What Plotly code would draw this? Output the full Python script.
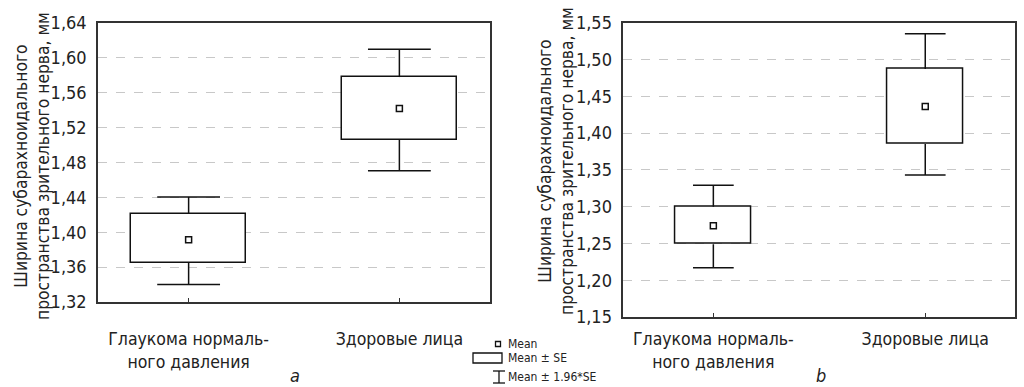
import plotly.graph_objects as go

# ---- data ----
categories = ["Глаукома нормаль-<br>ного давления", "Здоровые лица"]

a_mean = [1.3915, 1.542]
a_se_lo = [1.365, 1.506]
a_se_hi = [1.421, 1.578]
a_ci_lo = [1.340, 1.4705]
a_ci_hi = [1.4405, 1.610]
a_ticks = [1.32, 1.36, 1.40, 1.44, 1.48, 1.52, 1.56, 1.60, 1.64]

b_mean = [1.274, 1.436]
b_se_lo = [1.249, 1.385]
b_se_hi = [1.300, 1.487]
b_ci_lo = [1.217, 1.343]
b_ci_hi = [1.329, 1.535]
b_ticks = [1.15, 1.20, 1.25, 1.30, 1.35, 1.40, 1.45, 1.50, 1.55]

y_title = "Ширина субарахноидального<br>пространства зрительного нерва, мм"
legend_labels = ["Mean", "Mean ± SE", "Mean ± 1.96*SE"]

FONT = "DejaVu Sans Condensed, Liberation Sans Narrow, Roboto, sans-serif"
W, H = 1024, 387
fig = go.Figure()


def add_panel(xa, ya, mean, se_lo, se_hi, ci_lo, ci_hi, box_half, cap_half):
    xs = list(range(len(categories)))
    # boxes (mean ± SE)
    fig.add_trace(go.Bar(
        x=xs, base=se_lo, y=[h - l for h, l in zip(se_hi, se_lo)],
        width=2 * box_half, marker=dict(color="white", line=dict(color="#111", width=1.5)),
        xaxis=xa, yaxis=ya, showlegend=False, hoverinfo="skip"))
    # whiskers (mean ± 1.96*SE)
    wx, wy = [], []
    for x, sl, sh, cl, ch in zip(xs, se_lo, se_hi, ci_lo, ci_hi):
        wx += [x, x, None, x, x, None, x - cap_half, x + cap_half, None, x - cap_half, x + cap_half, None]
        wy += [sh, ch, None, sl, cl, None, ch, ch, None, cl, cl, None]
    fig.add_trace(go.Scatter(x=wx, y=wy, mode="lines", line=dict(color="#111", width=1.5),
                             xaxis=xa, yaxis=ya, showlegend=False, hoverinfo="skip"))
    # means
    fig.add_trace(go.Scatter(x=xs, y=mean, mode="markers",
                             marker=dict(symbol="square-open", size=6, color="#111", line=dict(width=1.5)),
                             xaxis=xa, yaxis=ya, showlegend=False))


add_panel("x", "y", a_mean, a_se_lo, a_se_hi, a_ci_lo, a_ci_hi, 0.272, 0.149)
add_panel("x2", "y2", b_mean, b_se_lo, b_se_hi, b_ci_lo, b_ci_hi, 0.179, 0.096)

axis_common = dict(showline=True, mirror=True, linecolor="#333", linewidth=1.5, zeroline=False,
                   automargin=False)
xcommon = dict(axis_common, tickvals=[0, 1], ticktext=categories, ticks="inside", ticklen=4,
               tickcolor="#333", showgrid=False, tickfont=dict(family=FONT, size=17.5, color="#222"))
ycommon = dict(axis_common, showgrid=True, gridcolor="#c8c8c8", griddash="dash", gridwidth=1,
               ticks="", tickfont=dict(family=FONT, size=18, color="#222"), ticklabelstandoff=6)

fig.update_layout(
    width=W, height=H, margin=dict(l=0, r=0, t=0, b=0, autoexpand=False),
    paper_bgcolor="white", plot_bgcolor="white", separators=", ", bargap=0,
    xaxis=dict(xcommon, domain=[98 / W, 490 / W], range=[-0.43, 1.43], ticklabelstandoff=20),
    yaxis=dict(ycommon, domain=[1 - 302 / H, 1 - 23 / H], range=[1.32, 1.64],
               tickvals=a_ticks, ticktext=[f"{t:.2f}".replace(".", ",") for t in a_ticks]),
    xaxis2=dict(xcommon, domain=[623.3 / W, 1015.3 / W], range=[-0.425, 1.425], ticklabelstandoff=5, anchor="y2"),
    yaxis2=dict(ycommon, domain=[1 - 317 / H, 1 - 22.7 / H], range=[1.15, 1.55], anchor="x2",
                tickvals=b_ticks, ticktext=[f"{t:.2f}".replace(".", ",") for t in b_ticks]),
    font=dict(family=FONT, color="#222"),
)

# axis titles
for xc, yc in [(32, 166), (556, 161)]:
    fig.add_annotation(x=xc / W, y=1 - yc / H, xref="paper", yref="paper", text=y_title,
                       textangle=-90, showarrow=False, font=dict(family=FONT, size=17.3, color="#222"),
                       xanchor="center", yanchor="middle")

# panel letters
for txt, xc in [("a", 295), ("b", 821)]:
    fig.add_annotation(x=xc / W, y=1 - 386.5 / H, xref="paper", yref="paper", text=f"<i>{txt}</i>",
                       showarrow=False, font=dict(family=FONT, size=18, color="#222"),
                       xanchor="center", yanchor="bottom", borderpad=0)

# legend (drawn)
def px(x):
    return x / W

def py(y):
    return 1 - y / H

line = dict(color="#111", width=1.3)
fig.add_shape(type="rect", xref="paper", yref="paper", x0=px(495.5), x1=px(500.5), y0=py(341.5), y1=py(346.5), line=line)
fig.add_shape(type="rect", xref="paper", yref="paper", x0=px(473), x1=px(502), y0=py(353), y1=py(363), line=line)
fig.add_shape(type="line", xref="paper", yref="paper", x0=px(493), x1=px(505), y0=py(371), y1=py(371), line=line)
fig.add_shape(type="line", xref="paper", yref="paper", x0=px(493), x1=px(505), y0=py(383), y1=py(383), line=line)
fig.add_shape(type="line", xref="paper", yref="paper", x0=px(499), x1=px(499), y0=py(371), y1=py(383), line=line)
for lab, yc in zip(legend_labels, [344, 358, 377]):
    fig.add_annotation(x=px(506), y=py(yc), xref="paper", yref="paper", text=lab, showarrow=False,
                       xanchor="left", yanchor="middle", font=dict(family=FONT, size=12, color="#222"))

fig.write_html("out.html", config={"displayModeBar": False},
               post_script="document.body.style.margin='0';document.body.style.overflow='hidden';")
